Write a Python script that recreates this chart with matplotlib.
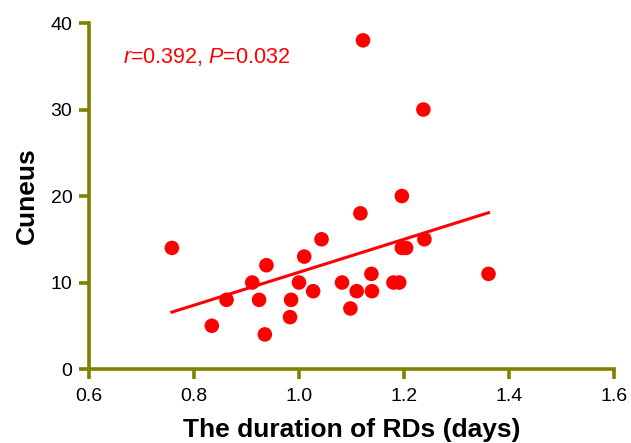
import numpy as np
import matplotlib
matplotlib.use('Agg')
import matplotlib.pyplot as plt

plt.rcParams['font.family'] = ['Liberation Sans', 'DejaVu Sans']
plt.rcParams['mathtext.fontset'] = 'custom'
plt.rcParams['mathtext.rm'] = 'Liberation Sans'
plt.rcParams['mathtext.it'] = 'Liberation Sans:italic'

# duration of RDs (days) vs Cuneus
duration = [0.758, 0.834, 0.862, 0.911, 0.924, 0.935, 0.938, 0.983, 0.985, 1.000,
            1.010, 1.027, 1.043, 1.082, 1.098, 1.110, 1.117, 1.122, 1.138, 1.139,
            1.180, 1.191, 1.196, 1.196, 1.204, 1.237, 1.239, 1.361]
cuneus = [14, 5, 8, 10, 8, 4, 12, 6, 8, 10,
          13, 9, 15, 10, 7, 9, 18, 38, 11, 9,
          10, 10, 20, 14, 14, 30, 15, 11]

x_ticks = [0.6, 0.8, 1.0, 1.2, 1.4, 1.6]
y_ticks = [0, 10, 20, 30, 40]

axis_col = '#808000'

fig = plt.figure(figsize=(6.31, 4.43), dpi=100)
ax = fig.add_axes([0.141, 0.167, 0.832, 0.781])

ax.scatter(duration, cuneus, s=110, color='#ff0000', edgecolors='none', zorder=3)

slope, icpt = np.polyfit(duration, cuneus, 1)
xx = np.array([min(duration), max(duration)])
ax.plot(xx, slope * xx + icpt, color='#ff0000', lw=2.2, zorder=2)

ax.text(0.665, 35.4, r'$r$=0.392, $P$=0.032', color='#ff0000', fontsize=15.5,
        va='baseline', ha='left')

ax.set_xlim(0.6, 1.6)
ax.set_ylim(0, 40)
ax.set_xticks(x_ticks)
ax.set_xticklabels(['%.1f' % t for t in x_ticks])
ax.set_yticks(y_ticks)

for side in ['top', 'right']:
    ax.spines[side].set_visible(False)
for side in ['left', 'bottom']:
    ax.spines[side].set_color(axis_col)
    ax.spines[side].set_linewidth(2.6)
    ax.spines[side].set_capstyle('projecting')

ax.tick_params(axis='both', direction='out', length=7, width=2.6,
               color=axis_col, labelsize=14, labelcolor='black', pad=5)
ax.tick_params(axis='x', pad=7)

ax.set_xlabel('The duration of RDs (days)', fontsize=19, fontweight='bold', labelpad=9)
ax.set_ylabel('Cuneus', fontsize=19, fontweight='bold', labelpad=8)

fig.savefig('out.png', dpi=100)
